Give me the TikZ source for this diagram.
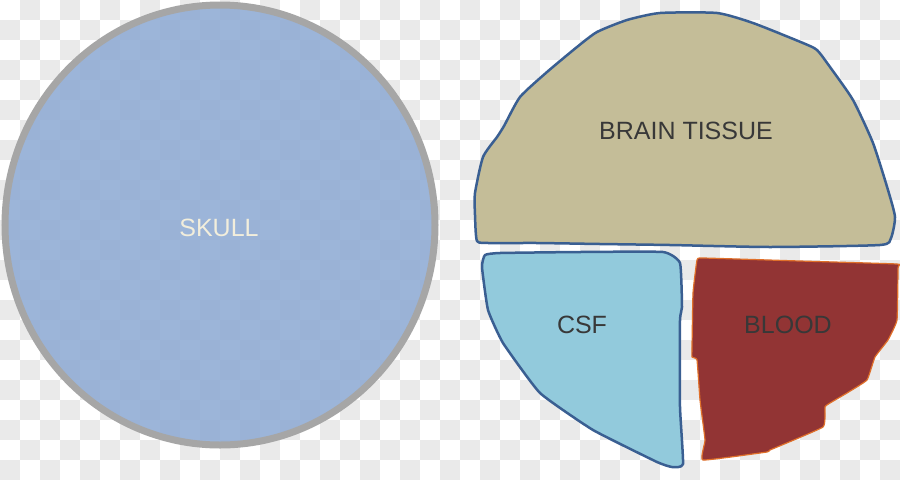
\documentclass[tikz,border=0pt]{standalone}
\usepackage{fontspec}
\setmainfont{Liberation Sans}
\definecolor{checkgrey}{HTML}{EAEAEA}
\definecolor{skullfill}{HTML}{8FABD4}
\definecolor{skullrim}{HTML}{A6A6A6}
\definecolor{skulltext}{HTML}{F2EEDC}
\definecolor{brainfill}{HTML}{C4BD98}
\definecolor{csffill}{HTML}{92CADC}
\definecolor{bloodfill}{HTML}{923434}
\definecolor{bloodrim}{HTML}{E0702A}
\definecolor{outline}{HTML}{3A5F92}
\definecolor{labeltext}{HTML}{383838}
\tikzset{
  lbl/.style={font=\fontsize{25}{28}\selectfont, text=labeltext, inner sep=0pt},
  region/.style={line width=2.5pt, draw=outline, line join=round}
}
\begin{document}
\begin{tikzpicture}[x=1pt,y=-1pt]
\useasboundingbox (0,0) rectangle (900,480);
\fill[white] (0,0) rectangle (900,480);
% transparency checkerboard
\foreach \j in {0,...,23}{
  \pgfmathsetmacro{\off}{20*mod(\j+1,2)}
  \foreach \i in {0,...,22}{
    \fill[checkgrey] (\off+40*\i,20*\j) rectangle ++(20,20);
  }
}
% skull
\draw[line width=7pt, draw=skullrim, fill=skullfill, fill opacity=0.88] (220,225) ellipse [x radius=215, y radius=220];
\node[lbl, text=skulltext] (skull) at (219,228) {SKULL};
% brain tissue
\draw[region, fill=brainfill] plot[smooth cycle, tension=0.35] coordinates {
  (477,241) (475,215) (475,193) (483,157) (497,137) (504,126) (520,97) (547,72) (577,47) (597,32) (627,20) (660,13) (717,13) (753,23) (803,43) (817,50) (830,67) (853,100) (873,143) (888,190) (895,217) (891,238) (880,245) (770,247) (670,245) (600,244) (537,243) (490,243)};
\node[lbl] (brain) at (686,131) {BRAIN TISSUE};
% CSF
\draw[region, fill=csffill] plot[smooth cycle, tension=0.25] coordinates {
  (485,255) (500,253) (580,252) (663,252) (680,263) (682,307) (680,320) (680,407) (683,464) (672,467) (657,462) (593,430) (540,393) (503,343) (488,310) (482,267)};
\node[lbl] (csf) at (582,325) {CSF};
% blood
\draw[line width=1.2pt, draw=bloodrim, fill=bloodfill, line join=round] plot[smooth cycle, tension=0.2] coordinates {
  (697,260) (703,258) (800,261) (897,264) (898,268) (897,320) (888,340) (875,357) (867,380) (847,393) (830,403) (825,407) (823,427) (770,450) (767,452) (703,460) (705,440) (700,400) (697,360) (692,357) (692,347) (693,293)};
\node[lbl] (blood) at (788,325) {BLOOD};
\end{tikzpicture}
\end{document}
